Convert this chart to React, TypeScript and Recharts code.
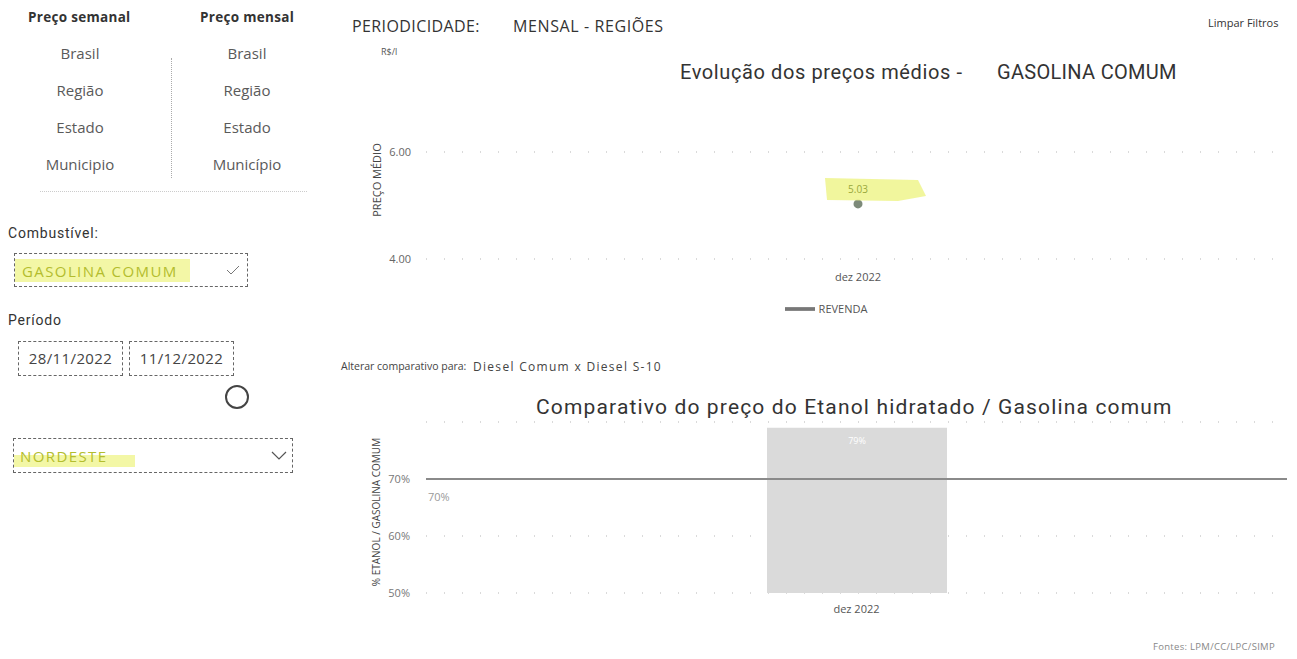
import React from "react";
import {
  Bar,
  BarChart,
  CartesianGrid,
  LabelList,
  Legend,
  Line,
  LineChart,
  ReferenceLine,
  XAxis,
  YAxis,
} from "recharts";

// filtros do painel
const WEEKLY_LEVELS = ["Brasil", "Região", "Estado", "Municipio"];
const MONTHLY_LEVELS = ["Brasil", "Região", "Estado", "Município"];
const PERIOD = ["28/11/2022", "11/12/2022"];

// evolução dos preços médios (R$/l)
const PRICE_MONTHS = ["dez 2022"];
const REVENDA_PRICES = [5.03];
const PRICE_TICKS = [4, 6];

// etanol / gasolina
const RATIO_MONTHS = ["dez 2022"];
const RATIO_VALUES = [0.79];
const RATIO_TICKS = [0.5, 0.6, 0.7];
const PARITY = 0.7;

const priceData = PRICE_MONTHS.map((m, i) => ({ month: m, revenda: REVENDA_PRICES[i] }));
const ratioData = RATIO_MONTHS.map((m, i) => ({ month: m, ratio: RATIO_VALUES[i] }));

const UI_FONT = "'Open Sans', 'Noto Sans', sans-serif";
const TITLE_FONT = "Roboto, 'Noto Sans', sans-serif";

const abs = (left: number, top: number, extra: React.CSSProperties = {}): React.CSSProperties => ({
  position: "absolute",
  left,
  top,
  whiteSpace: "nowrap",
  ...extra,
});

function HighlightLabel(props: any) {
  const { x, y, value } = props;
  return (
    <g>
      <path
        d={`M${x - 33},${y - 26} L${x + 60},${y - 24} L${x + 68},${y - 8} L${x + 40},${y - 3} L${x - 31},${y - 4} Z`}
        fill="#eef58c"
        opacity={0.85}
      />
      <text x={x} y={y - 11} textAnchor="middle" fontSize={10} fill="#9aa83c" fontFamily={UI_FONT}>
        {Number(value).toFixed(2)}
      </text>
    </g>
  );
}

function ParityLabel(props: any) {
  const { viewBox } = props;
  return (
    <text x={viewBox.x + 2} y={viewBox.y + 22} fontSize={11} fill="#9a9a9a" fontFamily={UI_FONT}>
      {Math.round(PARITY * 100)}%
    </text>
  );
}

function Chevron({ left, top }: { left: number; top: number }) {
  return (
    <svg style={abs(left, top)} width={16} height={10}>
      <polyline points="1,1 8,8 15,1" fill="none" stroke="#555" strokeWidth={1.2} />
    </svg>
  );
}

function LeftPanel() {
  const item = (text: string, cx: number, cy: number) => (
    <div key={text + cx} style={abs(cx - 60, cy - 10, { width: 120, textAlign: "center", fontSize: 15, color: "#5a5a5a", lineHeight: "20px" })}>
      {text}
    </div>
  );
  const box: React.CSSProperties = { border: "1px dashed #666", boxSizing: "border-box" };
  const header: React.CSSProperties = { fontSize: 13.5, fontWeight: 700, color: "#333", letterSpacing: 0.3 };
  const caption: React.CSSProperties = { fontSize: 14, color: "#333", fontFamily: TITLE_FONT, letterSpacing: 0.8 };
  const picked: React.CSSProperties = { fontSize: 15, color: "#b3bd2e", letterSpacing: 1.4 };
  return (
    <>
      <div style={abs(28, 8, header)}>Preço semanal</div>
      <div style={abs(200, 8, header)}>Preço mensal</div>
      {WEEKLY_LEVELS.map((t, i) => item(t, 80, 53 + i * 37))}
      {MONTHLY_LEVELS.map((t, i) => item(t, 247, 53 + i * 37))}
      <div style={abs(171, 58, { height: 120, borderLeft: "1px dotted #aaa" })} />
      <div style={abs(40, 191, { width: 267, borderTop: "1px dotted #ccc" })} />

      <div style={abs(8, 225, caption)}>Combustível:</div>
      <div style={abs(14, 253, { ...box, width: 234, height: 34 })} />
      <div style={abs(15, 259, { width: 175, height: 23, background: "#f3f7a6" })} />
      <div style={abs(22, 261, picked)}>GASOLINA COMUM</div>
      <svg style={abs(226, 265)} width={14} height={10}>
        <polyline points="1,5 5,9 13,1" fill="none" stroke="#777" strokeWidth={1} />
      </svg>

      <div style={abs(8, 312, caption)}>Período</div>
      {PERIOD.map((d, i) => (
        <div
          key={d}
          style={abs(18 + i * 111, 341, { ...box, width: 105, height: 35, fontSize: 15, color: "#444", lineHeight: "33px", textAlign: "center", letterSpacing: 0.4 })}
        >
          {d}
        </div>
      ))}
      <div style={abs(225, 385, { width: 24, height: 24, borderRadius: "50%", border: "2px solid #444", boxSizing: "border-box" })} />

      <div style={abs(13, 438, { ...box, width: 280, height: 35 })} />
      <div style={abs(14, 455, { width: 121, height: 12, background: "#f3f7a6" })} />
      <div style={abs(20, 446, picked)}>NORDESTE</div>
      <Chevron left={271} top={451} />
    </>
  );
}

export default function App() {
  return (
    <div style={{ position: "absolute", left: 0, top: 0, width: 1297, height: 659, background: "#fff", fontFamily: UI_FONT, overflow: "hidden" }}>
      <LeftPanel />

      <div style={abs(352, 15, { fontSize: 16, color: "#333", letterSpacing: 0.4 })}>PERIODICIDADE:</div>
      <div style={abs(513, 15, { fontSize: 16, color: "#333", letterSpacing: 0.6 })}>MENSAL - REGIÕES</div>
      <div style={abs(1208, 15, { fontSize: 11, color: "#333" })}>Limpar Filtros</div>

      <div style={abs(381, 45, { fontSize: 9, color: "#555" })}>R$/l</div>
      <div style={abs(680, 60, { fontSize: 20, lineHeight: "24px", color: "#333", fontFamily: TITLE_FONT, letterSpacing: 0.6 })}>
        Evolução dos preços médios -
      </div>
      <div style={abs(997, 60, { fontSize: 20, lineHeight: "24px", color: "#333", fontFamily: TITLE_FONT, letterSpacing: 0.3 })}>
        GASOLINA COMUM
      </div>
      <div style={abs(376, 180, { transform: "translate(-50%, -50%) rotate(-90deg)", fontSize: 11, color: "#444" })}>PREÇO MÉDIO</div>

      <div style={abs(340, 140)}>
        <LineChart width={957} height={180} data={priceData} margin={{ top: 12, right: 7, left: 0, bottom: 4 }}>
          <CartesianGrid vertical={false} stroke="#b5b5b5" strokeDasharray="1 17" />
          <XAxis
            dataKey="month"
            axisLine={false}
            tickLine={false}
            height={35}
            tickMargin={8}
            tick={{ fontSize: 11, fill: "#555", fontFamily: UI_FONT }}
          />
          <YAxis
            width={86}
            domain={[4, 6]}
            ticks={PRICE_TICKS}
            axisLine={false}
            tickLine={false}
            tickMargin={9}
            tickFormatter={(v: number) => v.toFixed(2)}
            tick={{ fontSize: 11, fill: "#666", fontFamily: UI_FONT }}
          />
          <Legend
            verticalAlign="bottom"
            iconType="plainline"
            iconSize={30}
            wrapperStyle={{ height: 22, left: 16 }}
            formatter={(v: string) => <span style={{ fontSize: 11, color: "#555", fontFamily: UI_FONT }}>{v}</span>}
          />
          <Line
            name="REVENDA"
            dataKey="revenda"
            stroke="#777"
            strokeWidth={2}
            dot={{ r: 4.5, fill: "#7d8a7a", stroke: "none" }}
            isAnimationActive={false}
          >
            <LabelList dataKey="revenda" content={HighlightLabel} />
          </Line>
        </LineChart>
      </div>

      <div style={abs(341, 359, { fontSize: 10.5, color: "#444" })}>Alterar comparativo para:</div>
      <div style={abs(473, 358, { fontSize: 12, color: "#444", letterSpacing: 1.3 })}>Diesel Comum x Diesel S-10</div>

      <div style={abs(536, 395, { fontSize: 21, lineHeight: "24px", color: "#333", fontFamily: TITLE_FONT, letterSpacing: 1.15 })}>
        Comparativo do preço do Etanol hidratado / Gasolina comum
      </div>
      <div style={abs(376, 512, { transform: "translate(-50%, -50%) rotate(-90deg)", fontSize: 10, color: "#444" })}>
        % ETANOL / GASOLINA COMUM
      </div>

      <div style={abs(340, 410)}>
        <BarChart width={957} height={220} data={ratioData} margin={{ top: 12, right: 10, left: 0, bottom: 2 }}>
          <CartesianGrid vertical={false} stroke="#b5b5b5" strokeDasharray="1 17" />
          <XAxis
            dataKey="month"
            axisLine={false}
            tickLine={false}
            height={35}
            tickMargin={6}
            tick={{ fontSize: 11, fill: "#555", fontFamily: UI_FONT }}
          />
          <YAxis
            width={86}
            domain={[0.5, 0.8]}
            ticks={RATIO_TICKS}
            axisLine={false}
            tickLine={false}
            tickMargin={10}
            tickFormatter={(v: number) => `${Math.round(v * 100)}%`}
            tick={{ fontSize: 11, fill: "#777", fontFamily: UI_FONT }}
          />
          <Bar dataKey="ratio" fill="#dadada" barSize={180} isAnimationActive={false}>
            <LabelList
              dataKey="ratio"
              position="insideTop"
              offset={10}
              fill="#ffffff"
              fontSize={9}
              formatter={(v: any) => `${Math.round(Number(v) * 100)}%`}
            />
          </Bar>
          <ReferenceLine y={PARITY} stroke="#8a8a8a" strokeWidth={2} label={<ParityLabel />} />
        </BarChart>
      </div>

      <div style={abs(1153, 640, { fontSize: 9.5, color: "#888", letterSpacing: 0.3 })}>Fontes: LPM/CC/LPC/SIMP</div>
    </div>
  );
}
